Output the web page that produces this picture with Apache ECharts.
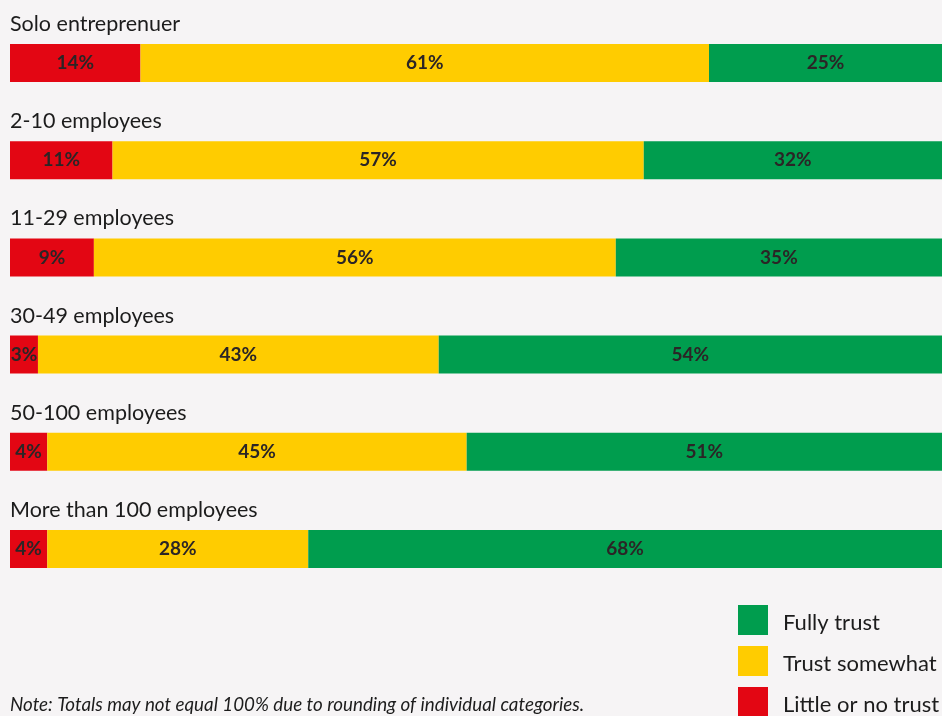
<!DOCTYPE html>
<html>
<head>
<meta charset="utf-8">
<script src="https://cdn.jsdelivr.net/npm/echarts@6/dist/echarts.min.js"></script>
<style>
  html, body { margin: 0; padding: 0; background: #f6f4f5; }
  #chart { width: 942px; height: 716px; }
</style>
</head>
<body>
<div id="chart"></div>
<script>
// Company-size groups, top to bottom
const categories = [
  'Solo entreprenuer',
  '2-10 employees',
  '11-29 employees',
  '30-49 employees',
  '50-100 employees',
  'More than 100 employees'
];

// Share of respondents (%) per trust level
const littleOrNoTrust = [14, 11, 9, 3, 4, 4];
const trustSomewhat   = [61, 57, 56, 43, 45, 28];
const fullyTrust      = [25, 32, 35, 54, 51, 68];

const seriesNames = ['Little or no trust', 'Trust somewhat', 'Fully trust'];
const seriesColors = ['#e30613', '#ffcc00', '#009d4e'];
const seriesData = [littleOrNoTrust, trustSomewhat, fullyTrust];

const noteText = 'Note: Totals may not equal 100% due to rounding of individual categories.';

const chart = echarts.init(document.getElementById('chart'), null, { renderer: 'canvas' });

const series = seriesNames.map((name, i) => ({
  name: name,
  type: 'bar',
  stack: 'total',
  barWidth: 38,
  itemStyle: { color: seriesColors[i] },
  emphasis: { disabled: true },
  label: {
    show: true,
    position: 'inside',
    formatter: p => p.value + '%',
    color: '#2b2526',
    fontFamily: 'Lato',
    fontWeight: 'bold',
    fontSize: 19
  },
  data: seriesData[i]
}));

chart.setOption({
  backgroundColor: '#f6f4f5',
  animation: false,
  grid: { left: 10, right: 0, top: 14.5, bottom: 118.5, containLabel: false },
  xAxis: {
    type: 'value',
    min: 0,
    max: 100,
    show: false
  },
  yAxis: {
    type: 'category',
    data: categories,
    inverse: true,
    axisLine: { show: false },
    axisTick: { show: false },
    axisLabel: {
      inside: true,
      margin: 0,
      align: 'left',
      verticalAlign: 'bottom',
      padding: [0, 0, 26, 0],
      color: '#1c1c1c',
      fontFamily: 'Lato',
      fontSize: 21.5,
      lineHeight: 26
    },
    z: 10
  },
  legend: {
    orient: 'vertical',
    left: 738,
    top: 605,
    height: 120,
    padding: 0,
    itemWidth: 30,
    itemHeight: 30,
    itemGap: 11,
    icon: 'rect',
    data: ['Fully trust', 'Trust somewhat', 'Little or no trust'],
    formatter: name => '{t|' + name + '}',
    textStyle: {
      color: '#1c1c1c',
      fontFamily: 'Lato',
      fontSize: 22,
      padding: [0, 0, 0, 10],
      rich: {
        t: {
          color: '#1c1c1c',
          fontFamily: 'Lato',
          fontSize: 22,
          padding: [6, 0, 0, 0]
        }
      }
    },
    selectedMode: false
  },
  graphic: [{
    type: 'text',
    left: 10,
    top: 695,
    style: {
      text: noteText,
      fill: '#1c1c1c',
      font: 'italic 18.8px Lato'
    }
  }],
  series: series
});
</script>
</body>
</html>
